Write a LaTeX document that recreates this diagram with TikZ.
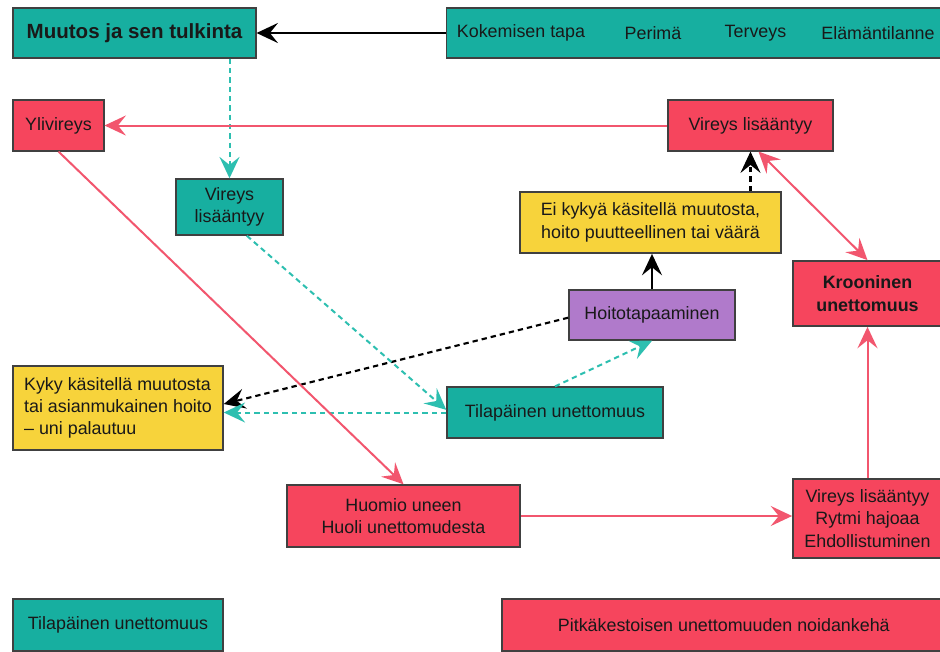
\documentclass[tikz,border=0pt]{standalone}
\usepackage{fontspec}
\setmainfont{Liberation Sans}
\usetikzlibrary{arrows.meta}

\definecolor{kteal}{HTML}{17AFA0}
\definecolor{kred}{HTML}{F6455D}
\definecolor{kyellow}{HTML}{F7D33B}
\definecolor{kpurple}{HTML}{B07ACB}
\definecolor{kredline}{HTML}{F2566E}
\definecolor{ktealline}{HTML}{2DBFB0}

\begin{document}
\begin{tikzpicture}[x=0.75pt, y=-0.75pt,
  every node/.style={font=\fontsize{13.4}{17}\selectfont, text=black!90, align=center, inner sep=0pt},
  box/.style={draw=black!75, line width=1.1pt},
  tealbox/.style={box, fill=kteal},
  redbox/.style={box, fill=kred},
  yellowbox/.style={box, fill=kyellow},
  purplebox/.style={box, fill=kpurple},
  tip/.style={-{Stealth[length=16pt, width=15pt, inset=6pt]}},
  twotip/.style={{Stealth[length=16pt, width=15pt, inset=6pt]}-{Stealth[length=16pt, width=15pt, inset=6pt]}},
  blackline/.style={tip, draw=black, line width=1.8pt},
  blackdash/.style={tip, draw=black, line width=1.6pt, dash pattern=on 4pt off 3pt},
  tealdash/.style={tip, draw=ktealline, line width=1.5pt, dash pattern=on 4pt off 3pt},
  redline/.style={tip, draw=kredline, line width=1.5pt}]

  % --- page
  \fill[white] (0,0) rectangle (940,651);
  \useasboundingbox (0,0) rectangle (940,651);

  % --- top row
  \node[tealbox, minimum width=380pt, minimum height=37.5pt] (tekijat) at (700,33) {};
  \node[tealbox, minimum width=182pt, minimum height=37.5pt,
        font=\bfseries\fontsize{15.4}{18}\selectfont] (muutos) at (134.5,33) {Muutos ja sen tulkinta};
  \node (tapa) at (521,33) {Kokemisen tapa};
  \node (perima) at (653,33) {Perimä};
  \node (terveys) at (755.5,33) {Terveys};
  \node (tilanne) at (878,33) {Elämäntilanne};

  % --- boxes
  \node[redbox, minimum width=68pt, minimum height=38pt] (ylivireys) at (58.5,125.5) {Ylivireys};
  \node[redbox, minimum width=124pt, minimum height=38pt] (vireysA) at (750.5,125.5) {Vireys lisääntyy};
  \node[tealbox, minimum width=80pt, minimum height=42pt] (vireysB) at (229.5,207) {Vireys\\lisääntyy};
  \node[yellowbox, minimum width=196pt, minimum height=46pt] (eikyky) at (650.5,222.5)
        {Ei kykyä käsitellä muutosta,\\hoito puutteellinen tai väärä};
  \node[redbox, minimum width=118pt, minimum height=49pt, font=\bfseries\fontsize{13.4}{17}\selectfont]
        (krooninen) at (871.5,293.5) {\hspace*{-6pt}Krooninen\\\hspace*{-6pt}unettomuus};
  \node[purplebox, minimum width=124.5pt, minimum height=37.5pt] (hoito) at (652,315) {Hoitotapaaminen};
  \node[yellowbox, minimum width=157.5pt, minimum height=63pt, align=left, font=\fontsize{13.4}{16.3}\selectfont]
        (kyky) at (118,408) {Kyky käsitellä muutosta\\tai asianmukainen hoito\\– uni palautuu};
  \node[tealbox, minimum width=162pt, minimum height=38pt] (tilapA) at (555,412.5) {Tilapäinen unettomuus};
  \node[redbox, minimum width=175pt, minimum height=46.5pt] (huomio) at (403.5,516) {Huomio uneen\\Huoli unettomudesta};
  \node[redbox, minimum width=118pt, minimum height=59pt] (rytmi) at (871.5,518.5)
        {\hspace*{-6pt}Vireys lisääntyy\\\hspace*{-6pt}Rytmi hajoaa\\\hspace*{-6pt}Ehdollistuminen};

  % --- legend
  \node[tealbox, minimum width=157.5pt, minimum height=39pt] (tilapB) at (118,625) {Tilapäinen unettomuus};
  \node[redbox, minimum width=340pt, minimum height=39pt] (pitka) at (728.5,625) {\hspace*{-7pt}Pitkäkestoisen unettomuuden noidankehä};

  % --- connectors
  \draw[blackline] (tekijat.west) -- (muutos.east);
  \draw[tealdash] (vireysB.north |- muutos.south) -- (vireysB.north);
  \draw[redline] (vireysA.west) -- (ylivireys.east);
  \draw[blackdash] (vireysA.south |- eikyky.north) -- (vireysA.south);
  \draw[redline, twotip] ([xshift=6pt]vireysA.south) -- ([xshift=-3pt]krooninen.north);
  \draw[blackline] (hoito.north) -- (hoito.north |- eikyky.south);
  \draw[blackdash] ([yshift=-2pt]hoito.west) -- ([yshift=3pt]kyky.east);
  \draw[tealdash] ([xshift=13pt]vireysB.south) -- ([yshift=2pt]tilapA.west);
  \draw[tealdash] (tilapA.west) -- (tilapA.west -| kyky.east);
  \draw[tealdash] (tilapA.north) -- (hoito.south);
  \draw[redline] (ylivireys.south) -- (huomio.north);
  \draw[redline] (huomio.east) -- (huomio.east -| rytmi.west);
  \draw[redline] ([xshift=-3pt]rytmi.north) -- ([xshift=-3pt]krooninen.south);
\end{tikzpicture}
\end{document}
